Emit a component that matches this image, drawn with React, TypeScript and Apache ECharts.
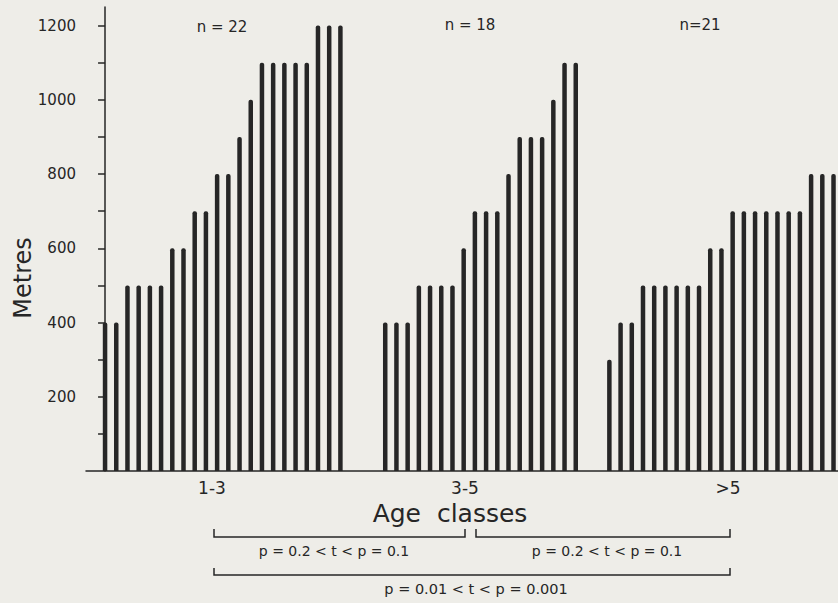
import React, { useEffect, useRef } from "react";
import * as echarts from "echarts";

// ---- data ----
const ageClasses = ["1-3", "3-5", ">5"];
const sampleLabels = ["n = 22", "n = 18", "n=21"];
const metres13 = [400, 400, 500, 500, 500, 500, 600, 600, 700, 700, 800, 800, 900, 1000, 1100, 1100, 1100, 1100, 1100, 1200, 1200, 1200];
const metres35 = [400, 400, 400, 500, 500, 500, 500, 600, 700, 700, 700, 800, 900, 900, 900, 1000, 1100, 1100];
const metres5 = [300, 400, 400, 500, 500, 500, 500, 500, 500, 600, 600, 700, 700, 700, 700, 700, 700, 700, 800, 800, 800];
const yTickValues = [100, 200, 300, 400, 500, 600, 700, 800, 900, 1000, 1100, 1200];
const yLabelValues = [200, 400, 600, 800, 1000, 1200];
const comparisonTexts = ["p = 0.2 < t < p = 0.1", "p = 0.2 < t < p = 0.1", "p = 0.01 < t < p = 0.001"];
const yTitle = "Metres";
const xTitle = "Age  classes";

const FONT = "'DejaVu Sans', 'Liberation Sans', sans-serif";
const INK = "#262626";
const BG = "#eeede8";

export default function App() {
  const ref = useRef<HTMLDivElement>(null);

  useEffect(() => {
    if (!ref.current) return;
    const chart = echarts.init(ref.current, null, { renderer: "svg" });

    const groups = [metres13, metres35, metres5];
    const gaps = [3, 2];
    const barData: number[][] = [];
    let slot = 0;
    groups.forEach((g, gi) => {
      g.forEach((v) => {
        barData.push([slot, v]);
        slot++;
      });
      if (gi < gaps.length) slot += gaps[gi];
    });

    const txt = (text: string, x: number, y: number, size: number, extra: any = {}) => ({
      type: "text",
      x,
      y,
      ...extra,
      style: {
        text,
        fill: INK,
        fontSize: size,
        fontFamily: FONT,
        align: "center",
        verticalAlign: "middle",
      },
    });
    const bracket = (x1: number, x2: number, y: number, h: number) => ({
      type: "polyline",
      shape: { points: [[x1, y - h], [x1, y], [x2, y], [x2, y - h]] },
      style: { stroke: INK, lineWidth: 1.5, fill: null },
    });

    chart.setOption({
      animation: false,
      backgroundColor: BG,
      grid: { left: 86, right: 0, top: 7, bottom: 132, containLabel: false },
      xAxis: {
        type: "value",
        min: -1.7,
        max: 65.4,
        axisLine: { show: true, onZero: false, lineStyle: { color: INK, width: 1.5 } },
        axisTick: { show: false },
        axisLabel: { show: false },
        splitLine: { show: false },
      },
      yAxis: {
        type: "value",
        min: 0,
        max: 1250,
        axisLine: { show: true, lineStyle: { color: INK, width: 1.5 } },
        axisTick: { show: true, length: 7, customValues: yTickValues, lineStyle: { color: INK, width: 1.5 } },
        axisLabel: {
          customValues: yLabelValues,
          formatter: (v: number) => String(v),
          margin: 10,
          color: INK,
          fontSize: 15,
          fontFamily: FONT,
        },
        splitLine: { show: false },
      },
      series: [
        {
          type: "bar",
          data: barData,
          barWidth: 4.5,
          itemStyle: { color: INK, borderRadius: [2, 2, 0, 0] },
        },
      ],
      graphic: [
        txt(sampleLabels[0], 222, 27, 15),
        txt(sampleLabels[1], 470, 25, 15),
        txt(sampleLabels[2], 700, 25, 15),
        txt(ageClasses[0], 212, 488, 17),
        txt(ageClasses[1], 465, 488, 17),
        txt(ageClasses[2], 728, 488, 17),
        txt(xTitle, 450, 513, 25),
        txt(yTitle, 23, 278, 24, { rotation: Math.PI / 2 }),
        bracket(214, 465, 537, 8),
        bracket(476, 730, 537, 8),
        txt(comparisonTexts[0], 334, 551, 14),
        txt(comparisonTexts[1], 607, 551, 14),
        bracket(214, 730, 575, 7),
        txt(comparisonTexts[2], 476, 589, 14.5),
      ],
    });

    return () => chart.dispose();
  }, []);

  return (
    <div
      ref={ref}
      style={{ position: "fixed", left: 0, top: 0, width: 838, height: 603 }}
    />
  );
}
